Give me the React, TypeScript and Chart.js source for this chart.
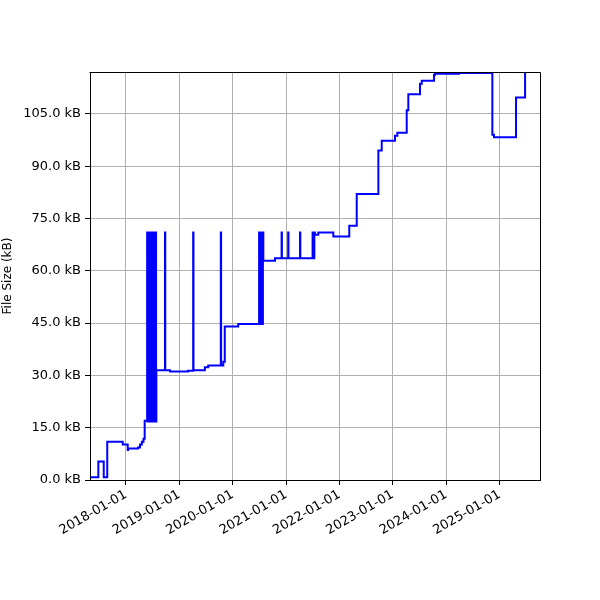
import React, { useEffect, useRef } from 'react';
import { Chart, registerables } from 'chart.js';

Chart.register(...registerables);

// Commit dates and file sizes (kB)
const commitDates: string[] = [
  '2017-05-04', '2017-06-26', '2017-08-02', '2017-08-26', '2017-12-10',
  '2018-01-13', '2018-01-16', '2018-03-24', '2018-04-07', '2018-04-20', '2018-05-01',
  '2018-05-09',
  '2018-05-26', '2018-05-29', '2018-06-01', '2018-06-04', '2018-06-07', '2018-06-10',
  '2018-06-13', '2018-06-16', '2018-06-19', '2018-06-22', '2018-06-25', '2018-06-28',
  '2018-07-01', '2018-07-04', '2018-07-07', '2018-07-10', '2018-07-13', '2018-07-16',
  '2018-07-19', '2018-07-22', '2018-07-24', '2018-07-26', '2018-07-28',
  '2018-09-25', '2018-09-27', '2018-10-29', '2019-03-01',
  '2019-04-06', '2019-04-08', '2019-06-25', '2019-07-18',
  '2019-10-12', '2019-10-14', '2019-10-29', '2019-11-08', '2020-02-08',
  '2020-06-30', '2020-07-02', '2020-07-05', '2020-07-07', '2020-07-18', '2020-07-20',
  '2020-07-26', '2020-07-29',
  '2020-10-17', '2020-12-01', '2020-12-03', '2021-01-15', '2021-01-17',
  '2021-04-06', '2021-04-08',
  '2021-07-01', '2021-07-04', '2021-07-07', '2021-07-10', '2021-07-13', '2021-07-17',
  '2021-08-09', '2021-11-20', '2022-03-09', '2022-04-29', '2022-09-24', '2022-10-17',
  '2023-01-16', '2023-02-01', '2023-04-06', '2023-04-17', '2023-07-06', '2023-07-18',
  '2023-10-10', '2023-10-17', '2024-03-29', '2024-11-12', '2024-11-23', '2025-04-23',
  '2025-06-24',
];

const fileSizesKB: number[] = [
  0.8, 5.3, 0.8, 11.0, 10.2,
  8.6, 9.0, 9.3, 10.2, 11.0, 11.8,
  17.0,
  71, 16.8, 71, 16.8, 71, 16.8,
  71, 16.8, 71, 16.8, 71, 16.8,
  71, 16.8, 71, 16.8, 71, 16.8,
  71, 16.8, 71, 16.8, 31.5,
  71, 31.5, 31.1, 31.3,
  71, 31.5, 32.3, 32.8,
  71, 32.8, 33.9, 44.0, 44.7,
  71, 44.7, 71, 44.7, 71, 44.7,
  71, 62.9,
  63.6, 71, 63.6, 71, 63.6,
  71, 63.6,
  71, 63.6, 71, 63.6, 71, 70.3,
  71.0, 69.8, 72.9, 82.0, 94.5, 97.3,
  98.7, 99.6, 106.0, 110.6, 113.6, 114.5,
  116.2, 116.5, 116.7, 99.0, 98.3, 109.7,
  120.0,
];

const xTickLabels: string[] = [
  '2018-01-01', '2019-01-01', '2020-01-01', '2021-01-01',
  '2022-01-01', '2023-01-01', '2024-01-01', '2025-01-01',
];
const yTickValues: number[] = [0, 15, 30, 45, 60, 75, 90, 105];
const xRange: string[] = ['2017-04-30', '2025-10-04'];
const yRange: number[] = [0, 117];
const yAxisTitle = 'File Size (kB)';

const toMs = (d: string) => Date.parse(d + 'T00:00:00Z');

const framePlugin = {
  id: 'frame',
  afterDraw(chart: any) {
    const { ctx, chartArea } = chart;
    ctx.save();
    ctx.strokeStyle = '#000';
    ctx.lineWidth = 1;
    ctx.beginPath();
    ctx.moveTo(Math.round(chartArea.left) - 0.5, Math.round(chartArea.top) + 0.5);
    ctx.lineTo(Math.round(chartArea.right) + 0.5, Math.round(chartArea.top) + 0.5);
    ctx.lineTo(Math.round(chartArea.right) + 0.5, Math.round(chartArea.bottom) + 0.5);
    ctx.stroke();
    ctx.restore();
  },
};

export default function App() {
  const ref = useRef<HTMLCanvasElement | null>(null);

  useEffect(() => {
    if (!ref.current) return;
    Chart.defaults.font.family = "'DejaVu Sans', sans-serif";
    Chart.defaults.color = '#000';
    const points = commitDates.map((d, i) => ({ x: toMs(d), y: fileSizesKB[i] }));
    const chart = new Chart(ref.current, {
      type: 'line',
      data: {
        datasets: [
          {
            data: points,
            borderColor: '#0000ff',
            borderWidth: 2,
            pointRadius: 0,
            stepped: 'before',
            fill: false,
            tension: 0,
          },
        ],
      },
      options: {
        responsive: false,
        animation: false,
        events: [],
        layout: { padding: { top: 72, right: 60, left: 0, bottom: 0 } },
        plugins: { legend: { display: false }, tooltip: { enabled: false } },
        scales: {
          x: {
            type: 'linear',
            min: toMs(xRange[0]),
            max: toMs(xRange[1]),
            afterBuildTicks: (scale: any) => {
              scale.ticks = xTickLabels.map((l) => ({ value: toMs(l) }));
            },
            afterFit: (scale: any) => {
              scale.height = 120;
            },
            ticks: {
              autoSkip: false,
              maxRotation: 30,
              minRotation: 30,
              padding: 2,
              font: { size: 13 },
              color: '#000',
              callback: (_v: any, i: number) => xTickLabels[i],
            },
            grid: {
              color: '#b0b0b0',
              lineWidth: 1,
              tickColor: '#000',
              tickLength: 5,
            },
            border: { display: true, color: '#000', width: 1 },
          },
          y: {
            type: 'linear',
            min: yRange[0],
            max: yRange[1],
            afterBuildTicks: (scale: any) => {
              scale.ticks = yTickValues.map((v) => ({ value: v }));
            },
            afterFit: (scale: any) => {
              scale.width = 90;
            },
            ticks: {
              padding: 4,
              font: { size: 13 },
              color: '#000',
              callback: (v: any) => Number(v).toFixed(1) + ' kB',
            },
            grid: {
              color: '#b0b0b0',
              lineWidth: 1,
              tickColor: '#000',
              tickLength: 5,
            },
            border: { display: true, color: '#000', width: 1 },
            title: {
              display: true,
              text: yAxisTitle,
              font: { size: 12 },
              color: '#000',
              padding: { top: 1, bottom: 0 },
            },
          },
        },
      },
      plugins: [framePlugin],
    });
    return () => chart.destroy();
  }, []);

  return (
    <div style={{ position: 'fixed', left: 0, top: 0, width: 600, height: 600, background: '#fff' }}>
      <canvas ref={ref} width={600} height={600} />
    </div>
  );
}
